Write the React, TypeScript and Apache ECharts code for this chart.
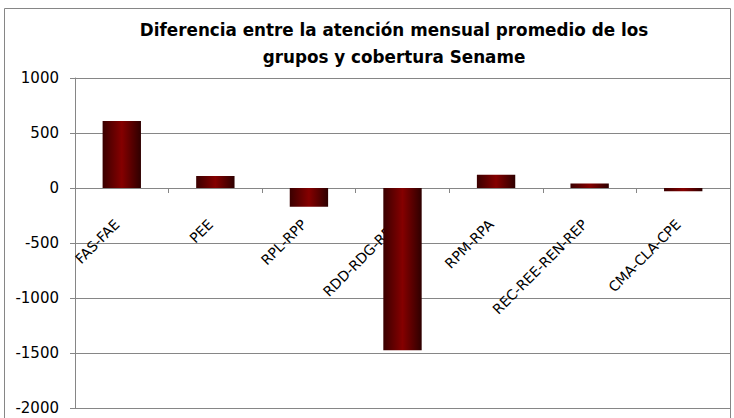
import React, { useEffect, useRef } from "react";
import * as echarts from "echarts";

const categories = ["FAS-FAE", "PEE", "RPL-RPP", "RDD-RDG-RDE", "RPM-RPA", "REC-REE-REN-REP", "CMA-CLA-CPE"];
const values = [610, 110, -170, -1475, 120, 40, -30];
const titleLines = ["Diferencia entre la atención mensual promedio de los", "grupos y cobertura Sename"];

export default function App() {
  const ref = useRef<HTMLDivElement>(null);
  useEffect(() => {
    if (!ref.current) return;
    const chart = echarts.init(ref.current, null, { renderer: "svg" });
    const barColor = new echarts.graphic.LinearGradient(0, 0, 1, 0, [
      { offset: 0, color: "#3a0000" },
      { offset: 0.5, color: "#850000" },
      { offset: 1, color: "#2e0000" },
    ]);
    chart.setOption({
      animation: false,
      backgroundColor: "#ffffff",
      title: {
        text: titleLines.join("\n"),
        left: 389,
        textAlign: "center",
        top: 11,
        textStyle: {
          fontFamily: "DejaVu Sans",
          fontWeight: "bold",
          fontSize: 16.8,
          lineHeight: 27,
          color: "#000",
        },
      },
      graphic: [
        {
          type: "rect",
          shape: { x: 4.5, y: 8.5, width: 726, height: 430 },
          style: { fill: "none", stroke: "#868686", lineWidth: 1 },
          silent: true,
        },
      ],
      grid: { left: 75, right: 4, top: 78, bottom: 10, containLabel: false, outerBoundsMode: "none" },
      xAxis: {
        type: "category",
        data: categories,
        position: "bottom",
        offset: -220,
        axisLine: { onZero: false, lineStyle: { color: "#868686" } },
        axisTick: { show: true, length: 5, lineStyle: { color: "#868686" } },
        axisLabel: {
          rotate: 45,
          margin: 29,
          padding: [0, 7, 0, 0],
          fontFamily: "DejaVu Sans",
          fontSize: 14,
          color: "#000",
          interval: 0,
        },
        splitLine: { show: false },
      },
      yAxis: {
        type: "value",
        min: -2000,
        max: 1000,
        interval: 500,
        axisLine: { show: true, lineStyle: { color: "#868686" } },
        axisTick: { show: true, length: 5, lineStyle: { color: "#868686" } },
        axisLabel: {
          margin: 16,
          fontFamily: "DejaVu Sans",
          fontSize: 15,
          color: "#000",
          formatter: (v: number) => String(v),
        },
        splitLine: { show: true, lineStyle: { color: "#868686", width: 1 } },
      },
      series: [
        {
          type: "bar",
          data: values,
          barWidth: "41%",
          itemStyle: { color: barColor },
        },
      ],
    });
    return () => chart.dispose();
  }, []);
  return <div ref={ref} style={{ position: "absolute", left: 0, top: 0, width: 734, height: 418 }} />;
}
